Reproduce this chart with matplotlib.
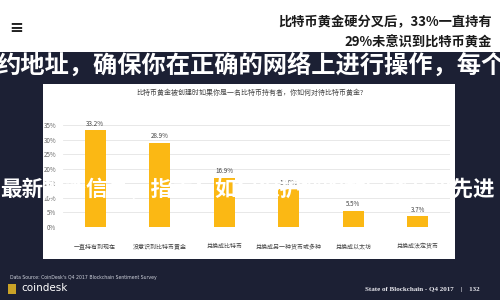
import matplotlib
matplotlib.use("Agg")
import matplotlib.pyplot as plt
from matplotlib.patches import Rectangle

plt.rcParams['font.family'] = ['Noto Sans CJK SC', 'DejaVu Sans']

categories = ["一直持有到现在", "没意识到比特币黄金", "兑换成比特币",
              "兑换成另一种货币或多种", "兑换成以太坊", "兑换成法定货币"]
values = [33.2, 28.9, 16.9, 12.9, 5.5, 3.7]
yticks = [0, 5, 10, 15, 20, 25, 30, 35]
ytick_labels = [f"{v}%" for v in yticks]
value_labels = [f"{v}%" for v in values]

title = "比特币黄金被创建时如果你是一名比特币持有者，你如何对待比特币黄金?"
header1 = "比特币黄金硬分叉后，33%一直持有"
header2 = "29%未意识到比特币黄金"
overlay1 = "约地址，确保你在正确的网络上进行操作，每个"
overlay2 = "最新加密信息，指南：如何保护您的数字资产和先进"
source = "Data Source: CoinDesk's Q4 2017 Blockchain Sentiment Survey"
footer = "State of Blockchain - Q4 2017    |    132"

W, H = 500, 300
fig = plt.figure(figsize=(5, 3), dpi=100)
fig.patch.set_facecolor('white')

def fy(py):
    return 1 - py / H

def fx(px):
    return px / W

dark = '#1c2034'
# dark slide background
fig.add_artist(Rectangle((0, 0), 1, fy(52), transform=fig.transFigure,
                         facecolor=dark, edgecolor='none', zorder=0))
# white chart panel
fig.add_artist(Rectangle((fx(43), fy(259)), fx(455 - 43), (259 - 84) / H,
                         transform=fig.transFigure, facecolor='white',
                         edgecolor='none', zorder=1))

# header
fig.text(fx(16), fy(28), "≡", fontsize=12, color='#222222', ha='center',
         va='center', family='DejaVu Sans', fontweight='bold')
fig.text(fx(492), fy(22), header1, fontsize=9.5, color='#1a1a1a', ha='right',
         va='center', fontweight='bold')
fig.text(fx(492), fy(43), header2, fontsize=9.5, color='#1a1a1a', ha='right',
         va='center', fontweight='bold')

# chart
ax = fig.add_axes([fx(63), fy(227), fx(450 - 63), (227 - 125) / H], zorder=2)
ax.set_facecolor('none')
x = list(range(len(categories)))
ax.bar(x, values, width=0.32, color='#FBB814', zorder=3)
for xi, v, lab in zip(x, values, value_labels):
    ax.text(xi, v + 0.9, lab, ha='center', va='bottom', fontsize=4.5,
            color='#444444')
ax.set_xlim(-0.5, len(categories) - 0.5)
ax.set_ylim(0, 35)
ax.set_yticks(yticks)
ax.set_yticklabels(ytick_labels, fontsize=4.5, color='#666666')
ax.set_xticks(x)
ax.set_xticklabels(categories, fontsize=4.3, color='#444444')
ax.tick_params(axis='both', length=0)
ax.tick_params(axis='y', pad=5)
ax.tick_params(axis='x', pad=12)
ax.grid(axis='y', color='#e4e4e4', linewidth=0.6, zorder=0)
for s in ax.spines.values():
    s.set_visible(False)

fig.text(fx(250), fy(93), title, fontsize=5, color='#444444', ha='center',
         va='center', zorder=3)

# footer
fig.text(fx(10), fy(277), source, fontsize=3.3, color='#cfd2dc', ha='left',
         va='center', family='DejaVu Sans')
fig.add_artist(Rectangle((fx(8), fy(294)), fx(8), 10 / H,
                         transform=fig.transFigure, facecolor='#c9a227',
                         edgecolor='none', zorder=3))
fig.text(fx(21), fy(288), "coindesk", fontsize=7.5, color='white', ha='left',
         va='center', family='DejaVu Sans')
fig.text(fx(480), fy(290), footer, fontsize=5, color='#e8e8ee', ha='right',
         va='center', family='Liberation Serif', fontweight='bold')

# overlay calligraphy-like text
fig.text(fx(-4), fy(66), overlay1, fontsize=17.5, color='white', ha='left',
         va='center', fontweight='heavy', zorder=10)
fig.text(fx(0), fy(190), overlay2, fontsize=15.5, color='white', ha='left',
         va='center', fontweight='heavy', zorder=10)

fig.savefig('out.png', dpi=100, facecolor=fig.get_facecolor())
